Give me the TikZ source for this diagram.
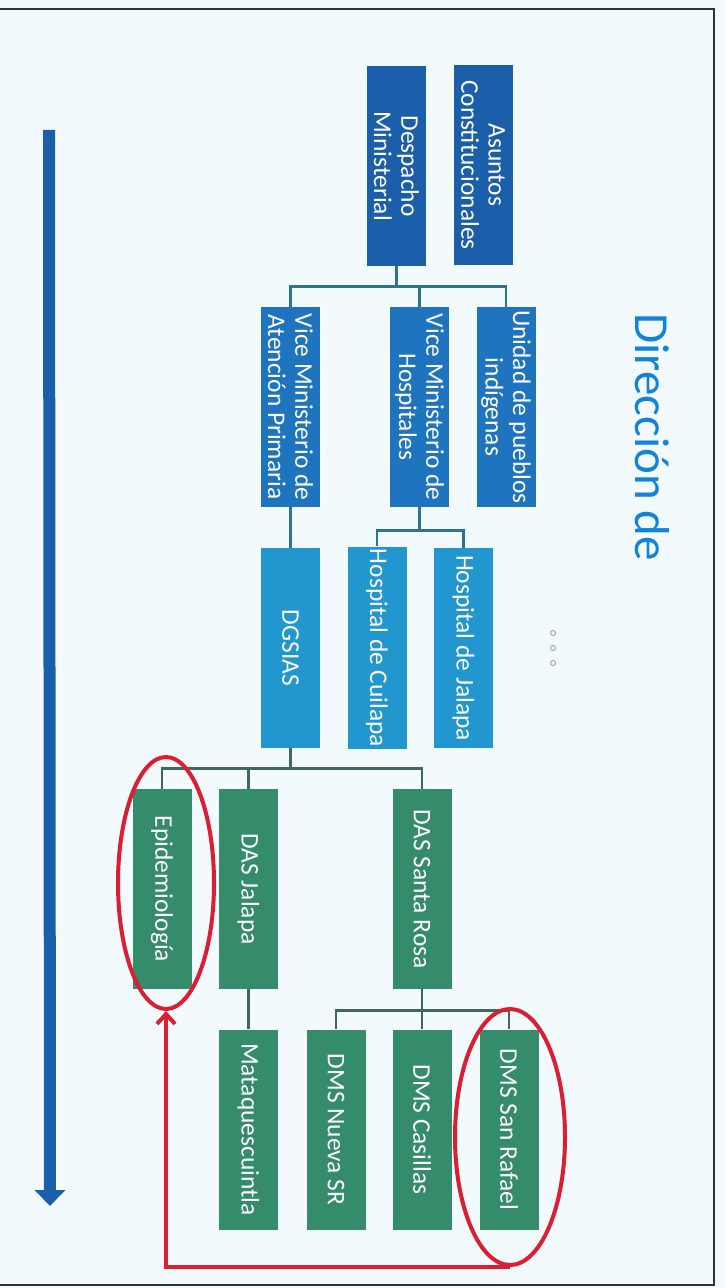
\documentclass[tikz,border=0pt]{standalone}
\usepackage{fontspec}
\setmainfont{Carlito}
\usetikzlibrary{arrows.meta,shapes.geometric}
\definecolor{fondo}{HTML}{F3FAFD}
\definecolor{azulA}{HTML}{1B5FAA}
\definecolor{azulB}{HTML}{1F74BF}
\definecolor{azulC}{HTML}{2297CF}
\definecolor{verde}{HTML}{358C6A}
\definecolor{lineaazul}{HTML}{2E7392}
\definecolor{lineaverde}{HTML}{3E6A5E}
\definecolor{rojo}{HTML}{DC1E32}
\definecolor{titulo}{HTML}{1283DA}
\tikzset{
  caja/.style={rotate=-90, minimum width=100pt, minimum height=29.5pt, inner sep=1pt,
    align=center, text=white, font=\fontsize{12.7}{13.7}\selectfont},
  conn/.style={draw=lineaazul, line width=1.2pt},
  connv/.style={draw=lineaverde, line width=1.2pt},
  anillo/.style={draw=rojo, line width=2pt, ellipse, inner sep=0pt},
}
\begin{document}
\begin{tikzpicture}[x=0.5pt, y=-0.5pt]
    \useasboundingbox (0,0) rectangle (725,1288);
    \fill[fondo] (0,0) rectangle (725,1288);
    \draw[black!80, line width=0.8pt] (0,9) -- (714,9) -- (714,1285) -- (0,1285);

    \node (titulo) at (635,313) [rotate=-90, anchor=base west, text=titulo,
      font=\fontsize{24.5}{28}\selectfont, inner sep=0pt] {Dirección de};

    \node (asuntos) at (483,165) [caja, fill=azulA] {Asuntos\\Constitucionales};
    \node (despacho) at (396.5,166) [caja, fill=azulA] {Despacho\\Ministerial};

    \node (pueblos) at (506,407) [caja, fill=azulB] {Unidad de pueblos\\indígenas};
    \node (vmhosp) at (419.5,407) [caja, fill=azulB] {Vice Ministerio de\\Hospitales};
    \node (vmaten) at (290.5,407) [caja, fill=azulB] {Vice Ministerio de\\Atención Primaria};

    \node (dgsias) at (290.5,648) [caja, fill=azulC] {DGSIAS};
    \node (hcuilapa) at (377,648) [caja, fill=azulC] {Hospital de Cuilapa};
    \node (hjalapa) at (463.5,648) [caja, fill=azulC] {Hospital de Jalapa};

    \node (epidemio) at (162,889) [caja, fill=verde] {Epidemiología};
    \node (dasjalapa) at (248.5,889) [caja, fill=verde] {DAS Jalapa};
    \node (dassrosa) at (422,889) [caja, fill=verde] {DAS Santa Rosa};

    \node (mataq) at (248.5,1129.5) [caja, fill=verde] {Mataquescuintla};
    \node (dmsnueva) at (336,1129.5) [caja, fill=verde] {DMS Nueva SR};
    \node (dmscasillas) at (422,1129.5) [caja, fill=verde] {DMS Casillas};
    \node (dmssanrafael) at (509,1129.5) [caja, fill=verde] {DMS San Rafael};

    \foreach \n in {pueblos,vmhosp,vmaten}
      \draw[conn] (despacho.east) -- ++(0,20) -| (\n.west);
    \foreach \n in {hcuilapa,hjalapa}
      \draw[conn] (vmhosp.east) -- ++(0,23) -| (\n.west);
    \draw[conn] (vmaten.east) -- (dgsias.west);
    \foreach \n in {epidemio,dasjalapa,dassrosa}
      \draw[connv] (dgsias.east) -- ++(0,20) -| (\n.west);
    \draw[connv] (dasjalapa.east) -- (mataq.west);
    \foreach \n in {dmsnueva,dmscasillas,dmssanrafael}
      \draw[connv] (dassrosa.east) -- ++(0,21) -| (\n.west);

    \foreach \y in {633,648,663}
      \draw[gray!70, line width=0.5pt] (553,\y) circle (2.5);

    \node (anilloepi) at (166,883) [anillo, minimum width=48pt, minimum height=126pt] {};
    \node (anillosr) at (510,1137) [anillo, minimum width=55pt, minimum height=128pt] {};
    \draw[rojo, line width=2pt, -{Straight Barb[length=5pt,width=9pt]}]
      (anillosr.south) -| (anilloepi.south);

    \coordinate (flujoini) at (49,130);
    \coordinate (flujofin) at (50,1206);
    \draw[azulA, line width=6pt, -{Triangle[length=8pt,width=15pt]}] (flujoini) -- (flujofin);
\end{tikzpicture}
\end{document}
